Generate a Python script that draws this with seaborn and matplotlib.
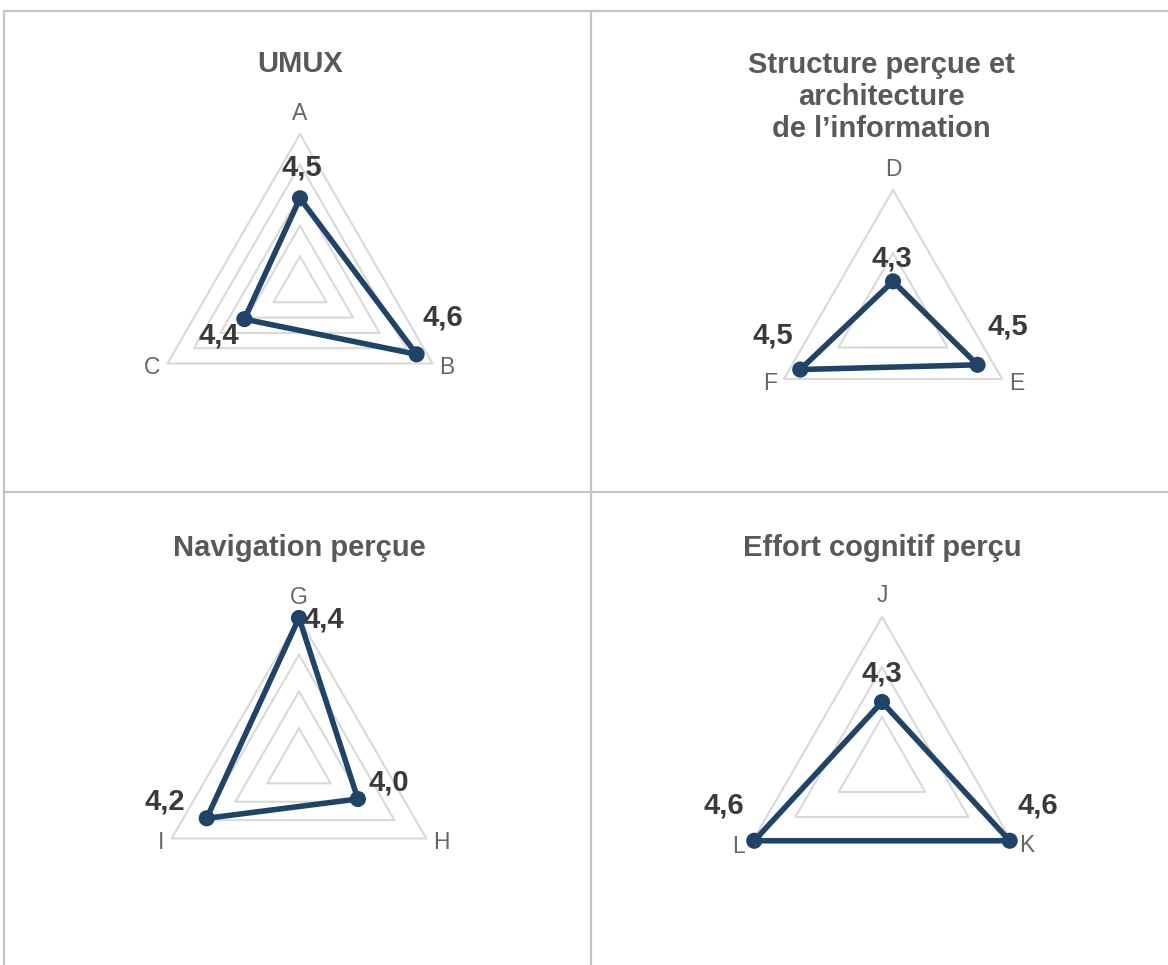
import numpy as np
import pandas as pd
import matplotlib
matplotlib.use("Agg")
import matplotlib.pyplot as plt
import seaborn as sns
from matplotlib.lines import Line2D

sns.set_theme(style="white")
plt.rcParams["font.family"] = ["Liberation Sans", "DejaVu Sans"]

# ---- data -------------------------------------------------------------
umux_labels = ["A", "B", "C"]
umux_values = [4.49, 4.64, 4.41]
umux_ticks = [4.2, 4.3, 4.4, 4.5, 4.6, 4.7]

structure_labels = ["D", "E", "F"]
structure_values = [4.31, 4.51, 4.54]
structure_ticks = [4.2, 4.4, 4.6]

navigation_labels = ["G", "H", "I"]
navigation_values = [4.40, 3.97, 4.18]
navigation_ticks = [3.6, 3.8, 4.0, 4.2, 4.4]

effort_labels = ["J", "K", "L"]
effort_values = [4.26, 4.59, 4.59]
effort_ticks = [4.0, 4.2, 4.4, 4.6]

titles = [
    "UMUX",
    "Structure perçue et\narchitecture\nde l\u2019information",
    "Navigation perçue",
    "Effort cognitif perçu",
]

# ---- style ------------------------------------------------------------
W, H = 1168, 965
LINE_COLOR = "#1f4468"
GRID_COLOR = "#d9d9d9"
TITLE_COLOR = "#595959"
AXIS_LABEL_COLOR = "#666666"
VALUE_COLOR = "#3a3a3a"
BORDER_COLOR = "#c4c4c4"

fig = plt.figure(figsize=(W / 100, H / 100), dpi=100)
fig.patch.set_facecolor("white")


def fx(x):
    return x / W


def fy(y):
    return 1 - y / H


# panel layout: radar centre (px), radius (px), title anchor (px), value label offsets (px)
panels = [
    dict(labels=umux_labels, values=umux_values, ticks=umux_ticks, title=titles[0],
         center=(300, 287), radius=153, title_xy=(300, 64),
         offsets=[(2, 31), (26, 37), (-26, -16)]),
    dict(labels=structure_labels, values=structure_values, ticks=structure_ticks, title=titles[1],
         center=(893, 316), radius=126, title_xy=(881, 97),
         offsets=[(-1, 23), (30, 38), (-27, 34)]),
    dict(labels=navigation_labels, values=navigation_values, ticks=navigation_ticks, title=titles[2],
         center=(299, 765), radius=147, title_xy=(299, 548),
         offsets=[(25, -2), (31, 16), (-42, 17)]),
    dict(labels=effort_labels, values=effort_values, ticks=effort_ticks, title=titles[3],
         center=(882, 767), radius=150, title_xy=(882, 548),
         offsets=[(0, 28), (28, 35), (-30, 35)]),
]


def fmt(v):
    return f"{v:.1f}".replace(".", ",")


for p in panels:
    cx, cy = p["center"]
    R = p["radius"]
    ax = fig.add_axes([fx(cx - R), fy(cy + R), 2 * R / W, 2 * R / H], projection="polar")
    ax.set_theta_zero_location("N")
    ax.set_theta_direction(-1)
    ax.set_ylim(p["ticks"][0], p["ticks"][-1])
    ax.grid(False)
    ax.set_xticks([])
    ax.set_yticks([])
    ax.spines["polar"].set_visible(False)
    ax.patch.set_alpha(0)

    n = len(p["labels"])
    theta = np.arange(n) * 2 * np.pi / n
    theta_closed = np.append(theta, theta[0])

    # triangular grid rings at each tick level
    for t in p["ticks"][1:]:
        ax.plot(theta_closed, [t] * (n + 1), color=GRID_COLOR, lw=1.5, zorder=1, clip_on=False)

    df = pd.DataFrame({"theta": theta, "value": p["values"], "label": p["labels"]})
    df_closed = pd.concat([df, df.iloc[[0]]], ignore_index=True)
    df_closed["theta"] = theta_closed

    sns.lineplot(data=df_closed, x="theta", y="value", sort=False, estimator=None,
                 color=LINE_COLOR, lw=4.0, ax=ax, zorder=3)
    sns.scatterplot(data=df, x="theta", y="value", color=LINE_COLOR, s=135,
                    edgecolor="none", ax=ax, zorder=4)
    for art in ax.lines + ax.collections:
        art.set_clip_on(False)
    ax.set_xlabel("")
    ax.set_ylabel("")
    ax.set_ylim(p["ticks"][0], p["ticks"][-1])

    # axis (category) labels just outside each vertex
    rmax = p["ticks"][-1]
    for th, lab in zip(theta, p["labels"]):
        s = np.sin(th)
        if abs(s) < 1e-6:
            off, ha, va = (0, 21), "center", "center"
        elif s > 0:
            off, ha, va = (7, -4), "left", "center"
        else:
            off, ha, va = (-7, -4), "right", "center"
        ax.annotate(lab, xy=(th, rmax), xytext=off, textcoords="offset pixels",
                    ha=ha, va=va, fontsize=16.5, color=AXIS_LABEL_COLOR,
                    annotation_clip=False, zorder=2)

    # value labels
    for th, v, off in zip(theta, p["values"], p["offsets"]):
        ax.annotate(fmt(v), xy=(th, v), xytext=off, textcoords="offset pixels",
                    ha="center", va="center", fontsize=21, fontweight="bold",
                    color=VALUE_COLOR, annotation_clip=False, zorder=5)

    tx, ty = p["title_xy"]
    fig.text(fx(tx), fy(ty), p["title"], ha="center", va="center", fontsize=21,
             fontweight="bold", color=TITLE_COLOR, linespacing=1.2)

# cell borders
border_kw = dict(color=BORDER_COLOR, lw=1.6, transform=fig.transFigure)
fig.add_artist(Line2D([fx(4), fx(W)], [fy(11), fy(11)], **border_kw))
fig.add_artist(Line2D([fx(4), fx(W)], [fy(492), fy(492)], **border_kw))
fig.add_artist(Line2D([fx(4), fx(4)], [fy(11), fy(H)], **border_kw))
fig.add_artist(Line2D([fx(591), fx(591)], [fy(11), fy(H)], **border_kw))

fig.savefig("out.png", dpi=100)
